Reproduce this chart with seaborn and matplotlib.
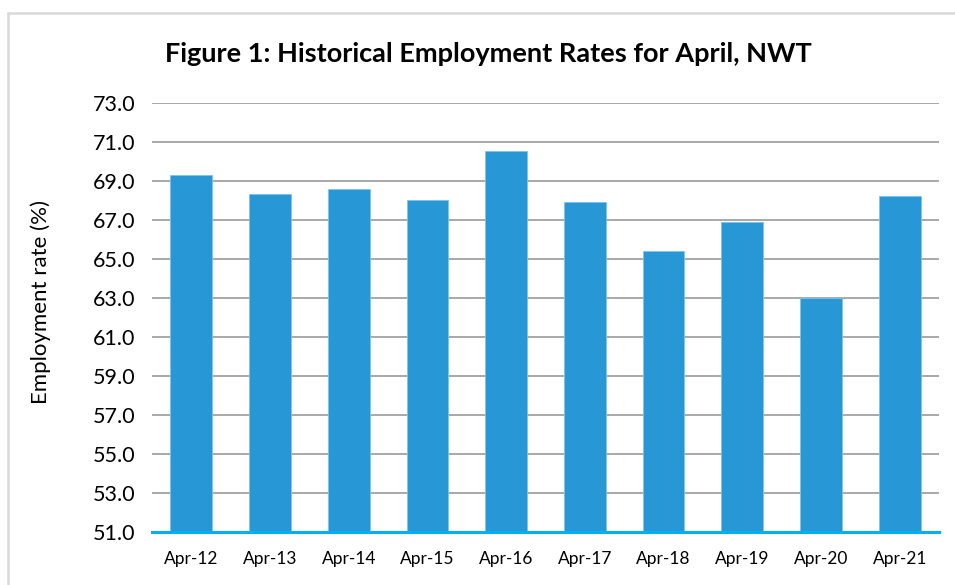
import matplotlib
matplotlib.use("Agg")
import matplotlib.pyplot as plt
from matplotlib.lines import Line2D
import seaborn as sns
import pandas as pd

categories = ["Apr-12", "Apr-13", "Apr-14", "Apr-15", "Apr-16",
              "Apr-17", "Apr-18", "Apr-19", "Apr-20", "Apr-21"]
values = [69.3, 68.3, 68.6, 68.0, 70.5, 67.9, 65.4, 66.9, 63.0, 68.2]
yticks = [51.0, 53.0, 55.0, 57.0, 59.0, 61.0, 63.0, 65.0, 67.0, 69.0, 71.0, 73.0]
title = "Figure 1: Historical Employment Rates for April, NWT"
ylabel = "Employment rate (%)"

sns.set_theme(style="white")
plt.rcParams['font.family'] = ['Lato', 'DejaVu Sans']

df = pd.DataFrame({"month": categories, "rate": values})

fig = plt.figure(figsize=(9.55, 5.85), dpi=100)
ax = fig.add_axes([152/955, 1 - 532/585, (939 - 152)/955, (532 - 102.7)/585])

sns.barplot(data=df, x="month", y="rate", color="#2798D5", saturation=1,
            width=0.53, ax=ax, edgecolor="#7FC3EA", linewidth=0.6, zorder=3)

ax.set_ylim(yticks[0], yticks[-1])
ax.set_yticks(yticks)
ax.set_yticklabels([f"{t:.1f}" for t in yticks], fontsize=15.5, color="#000000")
ax.set_xlim(-0.5, len(categories) - 0.5)
ax.tick_params(axis="x", labelsize=12.5, pad=14, length=0, colors="#000000")
ax.tick_params(axis="y", pad=12, length=0)
ax.set_xlabel("")
ax.set_ylabel("")
fig.text(41/955, 1 - 302/585, ylabel, rotation=90, ha="center", va="center",
         fontsize=16, color="#000000")

for t in yticks[1:]:
    ax.axhline(t, color="#9A9A9A", linewidth=1.2, zorder=1)

for s in ["top", "right", "left"]:
    ax.spines[s].set_visible(False)
ax.spines["bottom"].set_color("#00B0F0")
ax.spines["bottom"].set_linewidth(2.2)
ax.spines["bottom"].set_zorder(4)

fig.text(488/955, 1 - 54/585, title, ha="center", va="center",
         fontsize=19.5, fontweight="bold", color="#000000")

# outer chart border (light gray)
fig.add_artist(Line2D([8/955, 8/955], [0, 1 - 13/585], transform=fig.transFigure,
                      color="#D9D9D9", linewidth=1.8))
fig.add_artist(Line2D([8/955, 1], [1 - 13/585, 1 - 13/585], transform=fig.transFigure,
                      color="#D9D9D9", linewidth=1.8))

fig.savefig("out.png", dpi=100)
